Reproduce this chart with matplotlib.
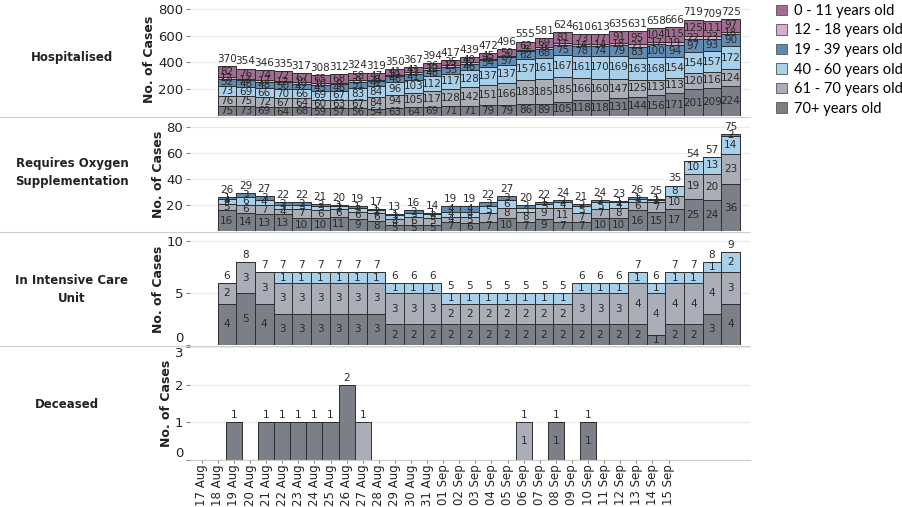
import matplotlib
matplotlib.use("Agg")
import matplotlib.pyplot as plt
from matplotlib.patches import Patch
from matplotlib.lines import Line2D
import numpy as np

# age groups, bottom of stack first
groups = ['70+ years old', '61 - 70 years old', '40 - 60 years old',
          '19 - 39 years old', '12 - 18 years old', '0 - 11 years old']
colors = {'70+ years old': '#7b7f88', '61 - 70 years old': '#aaaeb8',
          '40 - 60 years old': '#a9d0ea', '19 - 39 years old': '#5f8bb3',
          '12 - 18 years old': '#dcaccb', '0 - 11 years old': '#a26c92'}

# top three rows: 18 Aug .. 14 Sep
dates_top = [f'{d:02d} Aug' for d in range(18, 32)] + [f'{d:02d} Sep' for d in range(1, 15)]
# deceased row: 17 Aug .. 15 Sep
dates_dec = [f'{d:02d} Aug' for d in range(17, 32)] + [f'{d:02d} Sep' for d in range(1, 16)]

hosp_70 = [75,73,69,64,68,59,57,56,54,63,64,69,71,71,79,79,86,89,105,118,118,131,144,156,171,201,209,224]
hosp_61 = [76,75,72,67,64,60,63,67,84,94,105,117,128,142,151,166,183,185,185,166,160,147,125,113,113,120,116,124]
hosp_40 = [73,69,66,70,66,69,67,83,84,96,103,112,117,128,137,137,157,161,167,161,170,169,163,168,154,154,157,172]
hosp_19 = [52,48,48,50,42,45,48,51,42,46,41,48,53,46,54,57,62,68,75,78,74,79,83,100,94,97,93,90]
hosp_12 = [12,13,17,12,10,10,9,9,8,10,13,12,13,12,6,7,5,9,11,14,14,18,21,17,19,22,23,18]
hosp_0 = [82,76,74,72,67,65,68,58,47,41,41,36,35,40,45,50,62,69,81,73,77,91,95,104,115,125,111,97]

oxy_70 = [16,14,13,13,10,10,11,9,8,5,5,5,7,6,7,10,7,9,7,7,10,10,16,15,17,25,24,36]
oxy_61 = [5,6,7,4,7,6,6,6,6,4,6,5,4,5,7,8,8,9,11,7,7,8,6,7,10,19,20,23]
oxy_40 = [4,6,4,3,3,3,2,3,2,3,3,3,4,4,5,6,3,3,4,5,5,4,3,2,8,10,13,14]
oxy_19 = [1,3,3,2,2,2,1,1,1,1,2,1,4,4,3,3,2,1,2,2,2,1,1,1,0,0,0,2]

icu_70 = [4,5,4,3,3,3,3,3,3,2,2,2,2,2,2,2,2,2,2,2,2,2,2,1,2,2,3,4]
icu_61 = [2,3,3,3,3,3,3,3,3,3,3,3,2,2,2,2,2,2,2,3,3,3,4,4,4,4,4,3]
icu_40 = [0,0,0,1,1,1,1,1,1,1,1,1,1,1,1,1,1,1,1,1,1,1,1,1,1,1,1,2]

dec_70 = [0,0,1,0,1,1,1,1,1,2,0,0,0,0,0,0,0,0,0,0,0,0,1,0,1,0,0,0,0,0]
dec_61 = [0,0,0,0,0,0,0,0,0,0,1,0,0,0,0,0,0,0,0,0,1,0,0,0,0,0,0,0,0,0]
dec_inner = ['06 Sep', '08 Sep', '10 Sep']

rows = [
    ('Hospitalised', dict(zip(groups, [hosp_70, hosp_61, hosp_40, hosp_19, hosp_12, hosp_0])), [200, 400, 600, 800], 850),
    ('Requires Oxygen\nSupplementation', dict(zip(groups[:4], [oxy_70, oxy_61, oxy_40, oxy_19])), [20, 40, 60, 80], 87),
    ('In Intensive Care\nUnit', dict(zip(groups[:3], [icu_70, icu_61, icu_40])), [0, 5, 10], 10.8),
]

W, H = 903, 507
fig = plt.figure(figsize=(W / 100, H / 100), dpi=100)

def rect(l, t, r, b):
    return [l / W, 1 - b / H, (r - l) / W, (b - t) / H]

boxes = [(190, 2, 750, 116), (190, 118, 750, 231), (190, 233, 750, 345), (190, 347, 750, 460)]
label_y = [58, 172, 290, 404]

def style(ax, yticks, ytop):
    ax.set_ylim(0, ytop)
    ax.set_yticks(yticks)
    ax.yaxis.grid(True, color='#ebebeb', lw=0.8)
    ax.set_axisbelow(True)
    for s in ax.spines.values():
        s.set_visible(False)
    ax.tick_params(axis='y', length=3, color='#888888', labelsize=9.5, pad=2, labelcolor='#222222')
    ax.set_ylabel('No. of Cases', fontsize=9, fontweight='bold', labelpad=1, color='#222222')

for k, (name, data, yticks, ytop) in enumerate(rows):
    ax = fig.add_axes(rect(*boxes[k]))
    x = np.arange(len(dates_top))
    bottom = np.zeros(len(x))
    cont = None
    for g, vals in data.items():
        vals = np.array(vals)
        cont = ax.bar(x, vals, width=1.0, bottom=bottom, color=colors[g],
                      edgecolor='#2e2e2e', lw=0.7)
        ax.bar_label(cont, labels=[str(v) if v else '' for v in vals], label_type='center',
                     fontsize=7.5, color='#2a2a2a')
        bottom = bottom + vals
    ax.bar_label(cont, labels=[str(int(v)) for v in bottom], padding=1.5, fontsize=7.5, color='#2a2a2a')
    ax.set_xlim(-1.98, 28.04)
    ax.set_xticks([])
    style(ax, yticks, ytop)
    if yticks[0] == 0:
        ax.get_yticklabels()[0].set_va('bottom')
    fig.text(72 / W, 1 - label_y[k] / H, name, ha='center', va='center',
             fontsize=8.5, fontweight='bold', color='#222222', linespacing=1.5)

# deceased row
ax = fig.add_axes(rect(*boxes[3]))
x = np.arange(len(dates_dec))
b1 = ax.bar(x, dec_70, width=1.0, color=colors['70+ years old'], edgecolor='#2e2e2e', lw=0.7)
b2 = ax.bar(x, dec_61, width=1.0, bottom=dec_70, color=colors['61 - 70 years old'], edgecolor='#2e2e2e', lw=0.7)
ax.bar_label(b1, labels=[str(v) if (v and d in dec_inner) else '' for v, d in zip(dec_70, dates_dec)],
             label_type='center', fontsize=7.5, color='#2a2a2a')
ax.bar_label(b2, labels=[str(v) if (v and d in dec_inner) else '' for v, d in zip(dec_61, dates_dec)],
             label_type='center', fontsize=7.5, color='#2a2a2a')
tot = np.array(dec_70) + np.array(dec_61)
ax.bar_label(b2, labels=[str(v) if v else '' for v in tot], padding=1.5, fontsize=7.5, color='#2a2a2a')
ax.set_xlim(-0.73, 34.06)
style(ax, [0, 1, 2, 3], 3)
ax.get_yticklabels()[0].set_va('bottom')
ax.get_yticklabels()[-1].set_va('top')
ax.set_xticks(x)
ax.set_xticklabels(dates_dec, rotation=90, fontsize=8.5, color='#222222')
ax.tick_params(axis='x', length=2, color='#888888', pad=1)
ax.spines['bottom'].set_visible(True)
ax.spines['bottom'].set_color('#cccccc')
fig.text(67 / W, 1 - label_y[3] / H, 'Deceased', ha='center', va='center',
         fontsize=8.5, fontweight='bold', color='#222222')

# row separators
for yy in [117, 232, 346]:
    fig.add_artist(Line2D([0, 750 / W], [1 - yy / H, 1 - yy / H], color='#cfcfcf', lw=0.8))

handles = [Patch(facecolor=colors[g], edgecolor='#555555', lw=0.6) for g in groups[::-1]]
fig.legend(handles, groups[::-1], loc='upper left', bbox_to_anchor=(773 / W, 0.998),
           frameon=False, prop={'family': 'Lato', 'size': 10.5}, handlelength=0.75,
           handleheight=0.75, labelspacing=0.38, handletextpad=0.5, borderaxespad=0,
           borderpad=0.2)

fig.savefig('out.png', dpi=100)
